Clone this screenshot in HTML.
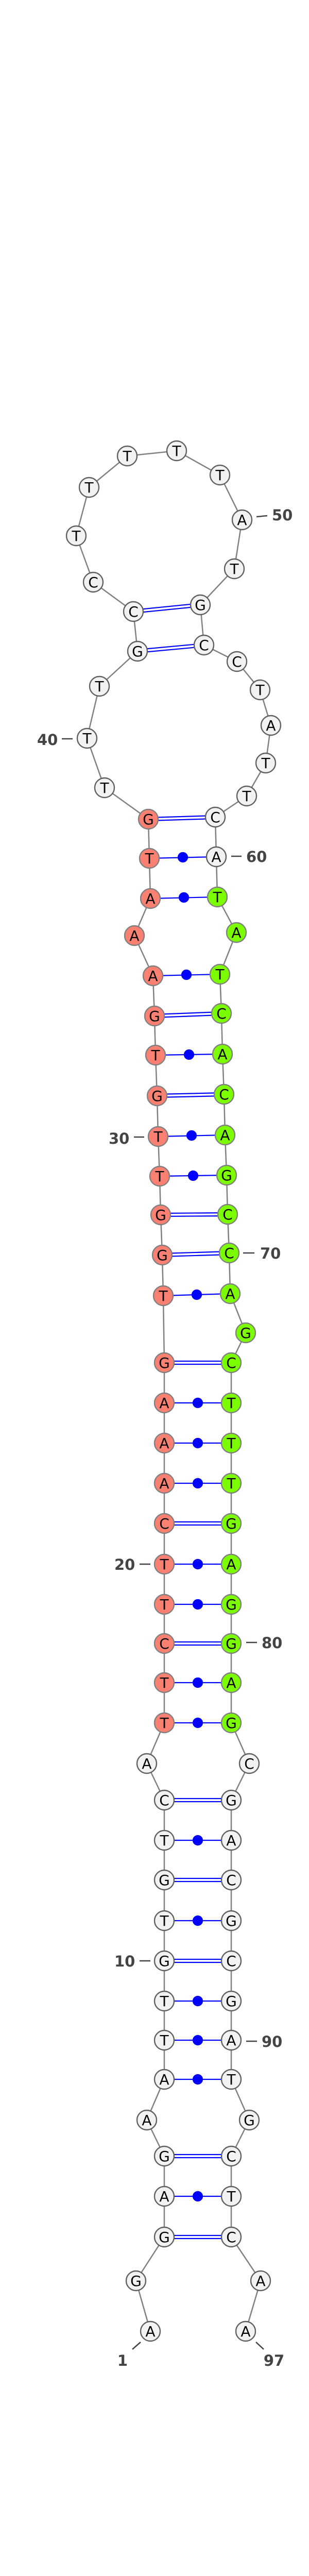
<!DOCTYPE html>
<html><head><meta charset="utf-8"><style>html,body{margin:0;padding:0;background:#fff;width:600px;height:5344px;overflow:hidden}svg{display:block}</style></head>
<body>
<svg width="600" height="5344" viewBox="0 0 600 5344" xmlns="http://www.w3.org/2000/svg">
<rect width="600" height="5344" fill="#fff"/>
<polyline fill="none" stroke="#808080" stroke-width="2.5" points="292,4525 264,4427 319,4342 319,4263 319,4185 285,4115 319,4036 319,3960 319,3884 319,3806 319,3728 319,3649 319,3572 319,3494 285,3423 319,3344 319,3266 319,3190 319,3114 319,3036 319,2957 319,2879 319,2801 319,2723 319,2645 317,2515 315,2436 312,2358 310,2283 307,2206 305,2127 302,2048 300,1972 297,1894 261,1816 292,1744 290,1666 288,1590 203,1529 169,1433 193,1332 267,1264 259,1187 181,1130 148,1040 173,946 247,885 343,875 427,922 470,1009 455,1104 389,1174 396,1252 460,1284 505,1339 526,1408 516,1481 479,1545 418,1586 420,1663 422,1741 459,1810 427,1891 430,1967 432,2046 435,2124 437,2203 440,2281 442,2357 445,2432 447,2511 477,2587 449,2645 449,2723 449,2801 449,2879 449,2957 449,3036 449,3114 449,3190 449,3266 449,3344 484,3423 449,3494 449,3572 449,3649 449,3728 449,3806 449,3884 449,3960 449,4036 484,4115 449,4185 449,4263 449,4342 506,4427 477,4525"/>
<g stroke="#0000ff" stroke-width="2.2" fill="#0000ff">
<g fill="none">
<path d="M319,4339H449M319,4345H449"/>
<path d="M319,4182H449M319,4188H449"/>
<path d="M319,3803H449M319,3809H449"/>
<path d="M319,3646H449M319,3652H449"/>
<path d="M319,3491H449M319,3497H449"/>
<path d="M319,3187H449M319,3193H449"/>
<path d="M319,2954H449M319,2960H449"/>
<path d="M319,2642H449M319,2648H449"/>
<path d="M315,2433L445,2429M315,2439L445,2435"/>
<path d="M312,2355L442,2354M312,2361L442,2360"/>
<path d="M305,2124L435,2121M305,2130L435,2127"/>
<path d="M300,1969L430,1964M300,1975L430,1970"/>
<path d="M288,1587L418,1583M288,1593L418,1589"/>
<path d="M267,1261L396,1249M267,1267L396,1255"/>
<path d="M259,1184L389,1171M259,1190L389,1177"/>
</g>
<path d="M319,4263H449M319,4036H449M319,3960H449M319,3884H449M319,3728H449M319,3572H449M319,3344H449M319,3266H449M319,3114H449M319,3036H449M319,2879H449M319,2801H449M319,2723H449M317,2515L447,2511M310,2283L440,2281M307,2206L437,2203M302,2048L432,2046M297,1894L427,1891M292,1744L422,1741M290,1666L420,1663" fill="none"/>
<circle cx="384" cy="4263" r="9"/><circle cx="384" cy="4036" r="9"/><circle cx="384" cy="3960" r="9"/><circle cx="384" cy="3884" r="9"/><circle cx="384" cy="3728" r="9"/><circle cx="384" cy="3572" r="9"/><circle cx="384" cy="3344" r="9"/><circle cx="384" cy="3266" r="9"/><circle cx="384" cy="3114" r="9"/><circle cx="384" cy="3036" r="9"/><circle cx="384" cy="2879" r="9"/><circle cx="384" cy="2801" r="9"/><circle cx="384" cy="2723" r="9"/><circle cx="382" cy="2513" r="9"/><circle cx="375" cy="2282" r="9"/><circle cx="372" cy="2204" r="9"/><circle cx="367" cy="2047" r="9"/><circle cx="362" cy="1892" r="9"/><circle cx="357" cy="1742" r="9"/><circle cx="355" cy="1664" r="9"/>
</g>
<g stroke-width="2.4" font-family="'DejaVu Sans','Liberation Sans',sans-serif" font-size="28" text-anchor="middle">
<g fill="#f2f2f2" stroke="#606060">
<circle cx="292" cy="4525" r="19"/><circle cx="264" cy="4427" r="19"/><circle cx="319" cy="4342" r="19"/><circle cx="319" cy="4263" r="19"/><circle cx="319" cy="4185" r="19"/><circle cx="285" cy="4115" r="19"/><circle cx="319" cy="4036" r="19"/><circle cx="319" cy="3960" r="19"/><circle cx="319" cy="3884" r="19"/><circle cx="319" cy="3806" r="19"/><circle cx="319" cy="3728" r="19"/><circle cx="319" cy="3649" r="19"/><circle cx="319" cy="3572" r="19"/><circle cx="319" cy="3494" r="19"/><circle cx="285" cy="3423" r="19"/>
<circle cx="203" cy="1529" r="19"/><circle cx="169" cy="1433" r="19"/><circle cx="193" cy="1332" r="19"/><circle cx="267" cy="1264" r="19"/><circle cx="259" cy="1187" r="19"/><circle cx="181" cy="1130" r="19"/><circle cx="148" cy="1040" r="19"/><circle cx="173" cy="946" r="19"/><circle cx="247" cy="885" r="19"/><circle cx="343" cy="875" r="19"/><circle cx="427" cy="922" r="19"/><circle cx="470" cy="1009" r="19"/><circle cx="455" cy="1104" r="19"/><circle cx="389" cy="1174" r="19"/><circle cx="396" cy="1252" r="19"/><circle cx="460" cy="1284" r="19"/><circle cx="505" cy="1339" r="19"/><circle cx="526" cy="1408" r="19"/><circle cx="516" cy="1481" r="19"/><circle cx="479" cy="1545" r="19"/><circle cx="418" cy="1586" r="19"/><circle cx="420" cy="1663" r="19"/>
<circle cx="484" cy="3423" r="19"/><circle cx="449" cy="3494" r="19"/><circle cx="449" cy="3572" r="19"/><circle cx="449" cy="3649" r="19"/><circle cx="449" cy="3728" r="19"/><circle cx="449" cy="3806" r="19"/><circle cx="449" cy="3884" r="19"/><circle cx="449" cy="3960" r="19"/><circle cx="449" cy="4036" r="19"/><circle cx="484" cy="4115" r="19"/><circle cx="449" cy="4185" r="19"/><circle cx="449" cy="4263" r="19"/><circle cx="449" cy="4342" r="19"/><circle cx="506" cy="4427" r="19"/><circle cx="477" cy="4525" r="19"/>
</g>
<g fill="#fa8072" stroke="#808080">
<circle cx="319" cy="3344" r="19"/><circle cx="319" cy="3266" r="19"/><circle cx="319" cy="3190" r="19"/><circle cx="319" cy="3114" r="19"/><circle cx="319" cy="3036" r="19"/><circle cx="319" cy="2957" r="19"/><circle cx="319" cy="2879" r="19"/><circle cx="319" cy="2801" r="19"/><circle cx="319" cy="2723" r="19"/><circle cx="319" cy="2645" r="19"/><circle cx="317" cy="2515" r="19"/><circle cx="315" cy="2436" r="19"/><circle cx="312" cy="2358" r="19"/><circle cx="310" cy="2283" r="19"/><circle cx="307" cy="2206" r="19"/><circle cx="305" cy="2127" r="19"/><circle cx="302" cy="2048" r="19"/><circle cx="300" cy="1972" r="19"/><circle cx="297" cy="1894" r="19"/><circle cx="261" cy="1816" r="19"/><circle cx="292" cy="1744" r="19"/><circle cx="290" cy="1666" r="19"/><circle cx="288" cy="1590" r="19"/>
</g>
<g fill="#7cfc00" stroke="#808080">
<circle cx="422" cy="1741" r="19"/><circle cx="459" cy="1810" r="19"/><circle cx="427" cy="1891" r="19"/><circle cx="430" cy="1967" r="19"/><circle cx="432" cy="2046" r="19"/><circle cx="435" cy="2124" r="19"/><circle cx="437" cy="2203" r="19"/><circle cx="440" cy="2281" r="19"/><circle cx="442" cy="2357" r="19"/><circle cx="445" cy="2432" r="19"/><circle cx="447" cy="2511" r="19"/><circle cx="477" cy="2587" r="19"/><circle cx="449" cy="2645" r="19"/><circle cx="449" cy="2723" r="19"/><circle cx="449" cy="2801" r="19"/><circle cx="449" cy="2879" r="19"/><circle cx="449" cy="2957" r="19"/><circle cx="449" cy="3036" r="19"/><circle cx="449" cy="3114" r="19"/><circle cx="449" cy="3190" r="19"/><circle cx="449" cy="3266" r="19"/><circle cx="449" cy="3344" r="19"/>
</g>
<g fill="#000" stroke="none">
<text x="292" y="4535">A</text><text x="264" y="4437">G</text><text x="319" y="4352">G</text><text x="319" y="4273">A</text><text x="319" y="4195">G</text><text x="285" y="4125">A</text><text x="319" y="4046">A</text><text x="319" y="3970">T</text><text x="319" y="3894">T</text><text x="319" y="3816">G</text><text x="319" y="3738">T</text><text x="319" y="3659">G</text><text x="319" y="3582">T</text><text x="319" y="3504">C</text><text x="285" y="3433">A</text>
<text x="319" y="3354">T</text><text x="319" y="3276">T</text><text x="319" y="3200">C</text><text x="319" y="3124">T</text><text x="319" y="3046">T</text><text x="319" y="2967">C</text><text x="319" y="2889">A</text><text x="319" y="2811">A</text><text x="319" y="2733">A</text><text x="319" y="2655">G</text><text x="317" y="2525">T</text><text x="315" y="2446">G</text><text x="312" y="2368">G</text><text x="310" y="2293">T</text><text x="307" y="2216">T</text><text x="305" y="2137">G</text><text x="302" y="2058">T</text><text x="300" y="1982">G</text><text x="297" y="1904">A</text><text x="261" y="1826">A</text><text x="292" y="1754">A</text><text x="290" y="1676">T</text><text x="288" y="1600">G</text>
<text x="203" y="1539">T</text><text x="169" y="1443">T</text><text x="193" y="1342">T</text><text x="267" y="1274">G</text><text x="259" y="1197">C</text><text x="181" y="1140">C</text><text x="148" y="1050">T</text><text x="173" y="956">T</text><text x="247" y="895">T</text><text x="343" y="885">T</text><text x="427" y="932">T</text><text x="470" y="1019">A</text><text x="455" y="1114">T</text><text x="389" y="1184">G</text><text x="396" y="1262">C</text><text x="460" y="1294">C</text><text x="505" y="1349">T</text><text x="526" y="1418">A</text><text x="516" y="1491">T</text><text x="479" y="1555">T</text><text x="418" y="1596">C</text><text x="420" y="1673">A</text>
<text x="422" y="1751">T</text><text x="459" y="1820">A</text><text x="427" y="1901">T</text><text x="430" y="1977">C</text><text x="432" y="2056">A</text><text x="435" y="2134">C</text><text x="437" y="2213">A</text><text x="440" y="2291">G</text><text x="442" y="2367">C</text><text x="445" y="2442">C</text><text x="447" y="2521">A</text><text x="477" y="2597">G</text><text x="449" y="2655">C</text><text x="449" y="2733">T</text><text x="449" y="2811">T</text><text x="449" y="2889">T</text><text x="449" y="2967">G</text><text x="449" y="3046">A</text><text x="449" y="3124">G</text><text x="449" y="3200">G</text><text x="449" y="3276">A</text><text x="449" y="3354">G</text>
<text x="484" y="3433">C</text><text x="449" y="3504">G</text><text x="449" y="3582">A</text><text x="449" y="3659">C</text><text x="449" y="3738">G</text><text x="449" y="3816">C</text><text x="449" y="3894">G</text><text x="449" y="3970">A</text><text x="449" y="4046">T</text><text x="484" y="4125">G</text><text x="449" y="4195">C</text><text x="449" y="4273">T</text><text x="449" y="4352">C</text><text x="506" y="4437">A</text><text x="477" y="4535">A</text>
</g>
</g>
<g stroke="#444" stroke-width="2.5">
<path d="M498,1003L519,1001M120,1434L141,1434M449,1662L469,1662M260,2207L280,2207M472,2432L494,2432M271,3036L292,3036M478,3188L499,3188M271,3806L292,3806M478,3962L499,3962M257,4560L273,4546M497,4546L512,4560"/>
</g>
<g fill="#444" font-family="'DejaVu Sans','Liberation Sans',sans-serif" font-weight="bold" font-size="29">
<text x="528" y="1010">50</text>
<text x="72" y="1446">40</text>
<text x="478" y="1673">60</text>
<text x="211" y="2220">30</text>
<text x="505" y="2443">70</text>
<text x="222" y="3047">20</text>
<text x="508" y="3199">80</text>
<text x="222" y="3817">10</text>
<text x="508" y="3973">90</text>
<text x="238" y="4592" text-anchor="middle">1</text>
<text x="532" y="4592" text-anchor="middle">97</text>
</g>
<text x="298" y="5329" text-anchor="middle" font-family="'DejaVu Sans','Liberation Sans',sans-serif" font-weight="bold" font-size="10" fill="#000">dme-mir-2b-2_annot [-43.6]</text>
</svg>
</body></html>
